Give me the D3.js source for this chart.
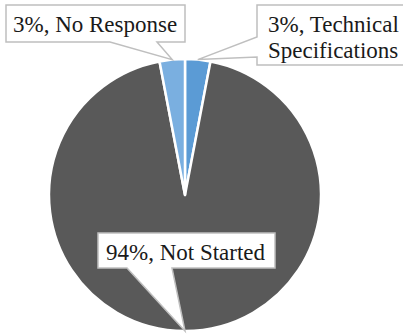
<!DOCTYPE html>
<html><head><meta charset="utf-8">
<script src="https://cdn.jsdelivr.net/npm/d3@7"></script>
<style>html,body{margin:0;padding:0;background:#fff;}</style>
</head><body>
<svg id="c" width="403" height="334" font-family="Liberation Serif"></svg>
<script>
const categories = ["Technical Specifications", "Not Started", "No Response"];
const values = [3, 94, 3];
const labelLines = [["3%, Technical", "Specifications"], ["94%, Not Started"], ["3%, No Response"]];
const colors = ["#5b9bd5", "#595959", "#7aafe0"];

const svg = d3.select("#c");
const cx = 185, cy = 195, r = 136;
const pie = d3.pie().sort(null).value(d => d)(values);
const arc = d3.arc().innerRadius(0).outerRadius(r);
const g = svg.append("g").attr("transform", `translate(${cx},${cy})`);
g.selectAll("path").data(pie).enter().append("path")
  .attr("d", arc).attr("fill", (d, i) => colors[i])
  .attr("stroke", "#fff").attr("stroke-width", 2.5).attr("stroke-linejoin", "round");

const layout = [
  {x0: 257, y0: 5, x1: 430, y1: 65, side: "left", b0: 37, b1: 57, tx: 268, ty: [32, 58]},
  {x0: 98, y0: 233, x1: 275, y1: 268, side: "bottom", b0: 127, b1: 172, tx: 106, ty: [260]},
  {x0: 6, y0: 5, x1: 185, y1: 42, side: "bottom", b0: 110, b1: 157, tx: 13, ty: [32]}
];
pie.forEach((d, i) => {
  const a = (d.startAngle + d.endAngle) / 2;
  const tip = [cx + r * Math.sin(a), cy - r * Math.cos(a)];
  const L = layout[i];
  let p;
  if (L.side === "bottom") {
    p = [[L.x0, L.y0], [L.x1, L.y0], [L.x1, L.y1], [L.b1, L.y1], tip, [L.b0, L.y1], [L.x0, L.y1]];
  } else {
    p = [[L.x0, L.y0], [L.x1, L.y0], [L.x1, L.y1], [L.x0, L.y1], [L.x0, L.b1], tip, [L.x0, L.b0]];
  }
  svg.append("path").attr("d", d3.line()(p) + "Z")
    .attr("fill", "#fff").attr("stroke", "#bfbfbf").attr("stroke-width", 1.5);
  labelLines[i].forEach((s, k) => svg.append("text")
    .attr("x", L.tx).attr("y", L.ty[k])
    .attr("font-family", "Liberation Serif")
    .style("font-family", "Liberation Serif").style("font-size", "23px")
    .attr("fill", "#1a1a1a").text(s));
});
</script>
</body></html>
